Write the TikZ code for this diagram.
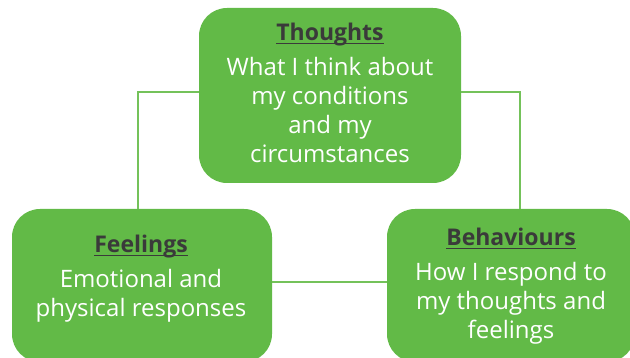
\documentclass[tikz,border=0pt]{standalone}
\usepackage{fontspec}
\setmainfont{Open Sans}
\usetikzlibrary{positioning}

\definecolor{boxgreen}{HTML}{62BA47}
\definecolor{linkgreen}{HTML}{74C25A}
\definecolor{headgrey}{HTML}{3A3A3A}
% bold grey heading with a thin rule just under the baseline
\newcommand{\boxhead}[1]{{\fontsize{23}{29}\selectfont\bfseries\color{headgrey}%
  \setbox0\hbox{#1}\rlap{\rule[-3.5pt]{\wd0}{1.3pt}}\box0}}

\begin{document}
\begin{tikzpicture}[x=1pt, y=-1pt,
  box/.style={fill=boxgreen, rounded corners=28pt, inner sep=0pt},
  boxtext/.style={align=center, text=white, inner sep=0pt, font=\fontsize{24}{29}\selectfont},
  link/.style={draw=linkgreen, line width=2pt}]
\useasboundingbox (0,0) rectangle (630,358);
% the three boxes
\node[box, minimum width=262pt, minimum height=175pt] (thoughts)   at (330,95.5)  {};
\node[box, minimum width=260pt, minimum height=153pt] (feelings)   at (142,285.5) {};
\node[box, minimum width=248pt, minimum height=153pt] (behaviours) at (511,285.5) {};
% texts inside them
\node[boxtext] (thoughtstext) at (330,93) {\boxhead{Thoughts}\\[6pt] What I think about\\ my conditions\\ and my\\ circumstances};
\node[boxtext] (feelingstext) at (141,279) {\boxhead{Feelings}\\[6pt] Emotional and\\ physical responses};
\node[boxtext] (behaviourstext) at (511,286) {\boxhead{Behaviours}\\[6pt] How I respond to\\ my thoughts and\\ feelings};
% connectors
\draw[link] ([yshift=3pt]thoughts.west) -| ([xshift=-4pt]feelings.north);
\draw[link] ([yshift=3pt]thoughts.east) -| ([xshift=9pt]behaviours.north);
\draw[link] ([yshift=3pt]feelings.east) -- ([yshift=3pt]behaviours.west);
\end{tikzpicture}
\end{document}
